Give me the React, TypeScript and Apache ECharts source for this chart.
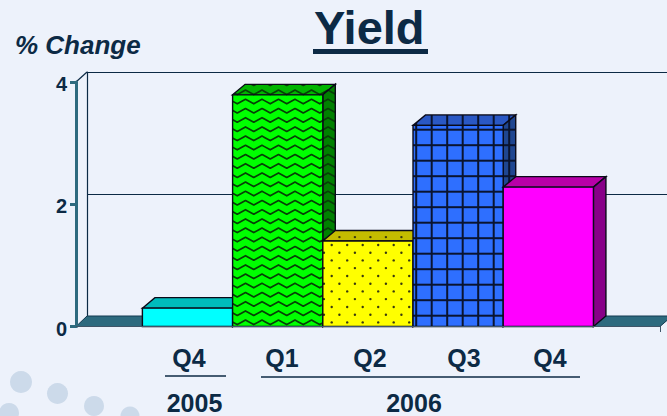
import React, { useEffect, useRef } from "react";
import * as echarts from "echarts";

// ---- data ----
const quarters = ["Q4", "Q1", "Q2", "Q3", "Q4"];
const yields = [0.3, 3.79, 1.4, 3.29, 2.28];
const years = ["2005", "2006"];
const yTicks = { min: 0, max: 4, interval: 2 };

// ---- layout / style ----
const INK = "#0c2a45";
const TEAL = "#2d6a7e";
const BG = "#edf2fb";
const FONT = "'Liberation Sans', Arial, sans-serif";
const DEPTH_X = 12.5;
const DEPTH_Y = 10.5;
const quarterCenters = [189, 282, 370, 464, 550];
const yearCenters = [194.5, 414];
const yearRules = [
  [165, 226, 376],
  [261, 580, 377],
];
const dots = [
  [21, 382, 11],
  [57.5, 393.5, 10.5],
  [94, 406, 10],
  [9, 413, 10],
  [130, 416, 9.5],
];
const faces = [
  { front: "#00ffff", top: "#00bcbc", side: "#008a8a", kind: "plain" },
  { front: "#00ff00", top: "#00b400", side: "#008000", kind: "wave" },
  { front: "#ffff00", top: "#c4bc00", side: "#808000", kind: "dots" },
  { front: "#2e6fff", top: "#2a58c4", side: "#1f4690", kind: "grid" },
  { front: "#ff00ff", top: "#b800a8", side: "#880088", kind: "plain" },
];

function makeTile(w: number, h: number, base: string, paint: (c: CanvasRenderingContext2D) => void) {
  const canvas = document.createElement("canvas");
  canvas.width = w;
  canvas.height = h;
  const c = canvas.getContext("2d")!;
  c.fillStyle = base;
  c.fillRect(0, 0, w, h);
  paint(c);
  return { image: canvas, repeat: "repeat", imageWidth: w, imageHeight: h };
}

function fillFor(kind: string, base: string): any {
  if (kind === "plain") return base;
  if (kind === "wave") {
    return makeTile(33, 46, base, (c) => {
      c.strokeStyle = "#064006";
      c.lineWidth = 1.7;
      c.lineJoin = "round";
      for (let k = -1; k <= 5; k++) {
        const y0 = 7.3 + k * 9.2;
        c.beginPath();
        for (let i = -1; i < 4; i++) {
          const px = -2 + i * 16.5;
          c.lineTo(px, y0);
          c.lineTo(px + 8.25, y0 + 4.5);
        }
        c.stroke();
      }
    });
  }
  if (kind === "dots") {
    return makeTile(31, 31, base, (c) => {
      c.fillStyle = "#3a3a10";
      const pts = [
        [21.7, 28],
        [6.2, 28],
        [29.4, 4.7],
        [13.9, 4.7],
        [21.7, 12.4],
        [6.2, 12.4],
        [29.4, 20.1],
        [13.9, 20.1],
      ];
      for (const [x, y] of pts) {
        c.beginPath();
        c.arc(x, y, 1.2, 0, Math.PI * 2);
        c.fill();
      }
    });
  }
  return makeTile(31, 31, base, (c) => {
    c.fillStyle = "#0a1430";
    for (const x of [13.2, 28.7]) c.fillRect(x - 1, 0, 2, 31);
    for (const y of [5.7, 21.2]) c.fillRect(0, y - 1, 31, 2);
  });
}

export default function App() {
  const ref = useRef<HTMLDivElement>(null);

  useEffect(() => {
    document.body.style.margin = "0";
    const chart = echarts.init(ref.current!, undefined, { renderer: "svg" });
    const fills = faces.map((f) => ({
      front: fillFor(f.kind, f.front),
      top: fillFor(f.kind, f.top),
      side: fillFor(f.kind, f.side),
    }));
    const xMin = -1.236;
    const xMax = 5.238;
    const edge = { stroke: "#0a0a18", lineWidth: 1.4, lineJoin: "miter" };

    chart.setOption({
      animation: false,
      backgroundColor: BG,
      title: [
        {
          text: "Yield",
          left: 309,
          top: -1,
          textStyle: { fontFamily: FONT, fontWeight: "bold", fontSize: 47, color: INK },
        },
        {
          text: "% Change",
          left: 10,
          top: 27,
          textStyle: { fontFamily: FONT, fontWeight: "bold", fontStyle: "italic", fontSize: 26, color: INK },
        },
      ],
      grid: [
        { left: 76, top: 82, width: 584, height: 244.5 },
        { left: 87, top: 72, width: 600, height: 244 },
      ],
      xAxis: [
        {
          type: "value",
          gridIndex: 0,
          min: xMin,
          max: xMax,
          z: 5,
          axisLine: { show: true, onZero: false, lineStyle: { color: "#3f5568", width: 1 } },
          axisTick: { show: false },
          axisLabel: { show: false },
          splitLine: { show: false },
        },
        { type: "value", gridIndex: 1, min: 0, max: 1, show: false, splitLine: { show: false } },
      ],
      yAxis: [
        {
          type: "value",
          gridIndex: 0,
          ...yTicks,
          z: 5,
          axisLine: { show: true, onZero: false, lineStyle: { color: TEAL, width: 3 } },
          axisTick: { show: true, length: 6, lineStyle: { color: TEAL, width: 3 } },
          axisLabel: {
            show: true,
            margin: 9,
            verticalAlign: "top",
            lineHeight: 4,
            fontFamily: FONT,
            fontWeight: "bold",
            fontSize: 20,
            color: INK,
          },
          splitLine: { show: false },
        },
        {
          type: "value",
          gridIndex: 1,
          ...yTicks,
          axisLine: { show: true, onZero: false, lineStyle: { color: INK, width: 1.2 } },
          axisTick: { show: false },
          axisLabel: { show: false },
          splitLine: { show: true, lineStyle: { color: INK, width: 1.2 } },
        },
      ],
      series: [
        {
          type: "custom",
          name: "floor",
          xAxisIndex: 0,
          yAxisIndex: 0,
          data: [[xMin, xMax]],
          renderItem: (_p: any, api: any) => {
            const a = api.coord([xMin, 0]);
            const b = api.coord([xMax, 0]);
            return {
              type: "polygon",
              shape: {
                points: [
                  a,
                  [a[0] + 11, a[1] - 10.5],
                  [b[0] + 12, b[1] - 10.5],
                  b,
                ],
              },
              style: { fill: TEAL, stroke: "#123a50", lineWidth: 1 },
            };
          },
        },
        {
          type: "custom",
          name: "Yield",
          xAxisIndex: 0,
          yAxisIndex: 0,
          z: 3,
          encode: { x: 0, y: 1 },
          data: yields.map((v, i) => [i, v]),
          renderItem: (p: any, api: any) => {
            const i = p.dataIndex;
            const center = api.value(0);
            const w = api.size([1, 0])[0];
            const top = api.coord([center, api.value(1)]);
            const bottom = api.coord([center, 0]);
            const l = top[0] - w / 2;
            const r = top[0] + w / 2;
            const t = top[1];
            const b = bottom[1];
            return {
              type: "group",
              children: [
                {
                  type: "polygon",
                  shape: {
                    points: [
                      [l, t],
                      [l + DEPTH_X, t - DEPTH_Y],
                      [r + DEPTH_X, t - DEPTH_Y],
                      [r, t],
                    ],
                  },
                  style: { fill: fills[i].top, ...edge },
                },
                {
                  type: "polygon",
                  shape: {
                    points: [
                      [r, t],
                      [r + DEPTH_X, t - DEPTH_Y],
                      [r + DEPTH_X, b - DEPTH_Y],
                      [r, b],
                    ],
                  },
                  style: { fill: fills[i].side, ...edge },
                },
                {
                  type: "rect",
                  shape: { x: l, y: t, width: r - l, height: b - t },
                  style: { fill: fills[i].front, ...edge },
                },
              ],
            };
          },
        },
      ],
      graphic: [
        ...dots.map(([x, y, r]) => ({
          type: "circle",
          silent: true,
          z: -1,
          shape: { cx: x, cy: y, r },
          style: { fill: "#ccdaea" },
        })),
        {
          type: "rect",
          shape: { x: 313, y: 49, width: 115, height: 5 },
          style: { fill: INK },
        },
        {
          type: "line",
          shape: { x1: 76, y1: 82, x2: 87, y2: 72 },
          style: { stroke: INK, lineWidth: 1.2 },
        },
        {
          type: "line",
          shape: { x1: 660.5, y1: 326, x2: 660.5, y2: 332 },
          style: { stroke: "#3f5568", lineWidth: 1 },
        },
        ...quarters.map((q, i) => ({
          type: "text",
          style: {
            text: q,
            x: quarterCenters[i],
            y: 358,
            textAlign: "center",
            textVerticalAlign: "middle",
            fontFamily: FONT,
            fontWeight: "bold",
            fontSize: 25,
            fill: INK,
          },
        })),
        ...yearRules.map(([x1, x2, y]) => ({
          type: "line",
          shape: { x1, y1: y, x2, y2: y },
          style: { stroke: INK, lineWidth: 1.6 },
        })),
        ...years.map((yr, i) => ({
          type: "text",
          style: {
            text: yr,
            x: yearCenters[i],
            y: 403,
            textAlign: "center",
            textVerticalAlign: "middle",
            fontFamily: FONT,
            fontWeight: "bold",
            fontSize: 25,
            fill: INK,
          },
        })),
      ],
    });
    return () => chart.dispose();
  }, []);

  return (
    <div
      ref={ref}
      style={{ position: "absolute", left: 0, top: 0, width: 667, height: 416, overflow: "hidden" }}
    />
  );
}
